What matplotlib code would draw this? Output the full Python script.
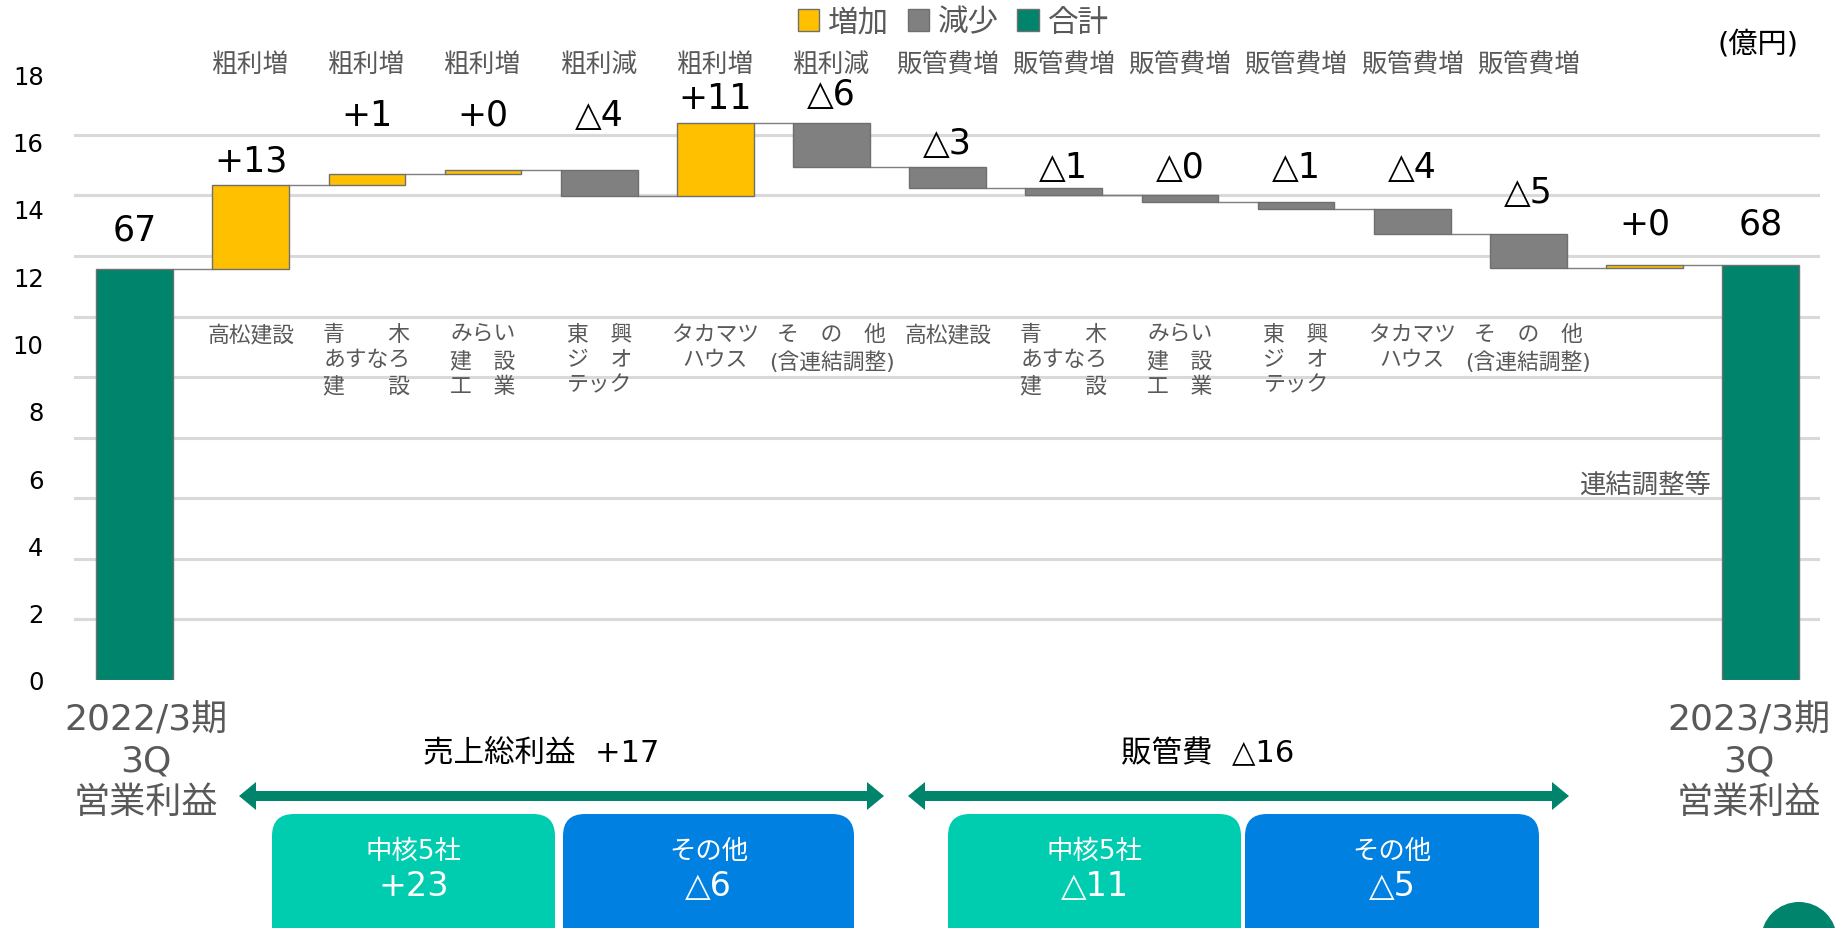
import numpy as np
import matplotlib.pyplot as plt
from matplotlib.patches import Patch, FancyBboxPatch, Circle

plt.rcParams['font.family'] = ['DejaVu Sans', 'Noto Sans CJK JP']

# データ（グラフ目盛り上の値）
start_value = 12.20
deltas = [2.52, 0.31, 0.11, -0.77, 2.17, -1.30, -0.62, -0.21, -0.21, -0.21, -0.74, -1.01, 0.10]
value_labels = ["67", "+13", "+1", "+0", "△4", "+11", "△6", "△3", "△1", "△0", "△1", "△4", "△5", "+0", "68"]
top_labels = ["", "粗利増", "粗利増", "粗利増", "粗利減", "粗利増", "粗利減",
              "販管費増", "販管費増", "販管費増", "販管費増", "販管費増", "販管費増", "", ""]
companies = ["高松建設", "青　　木\nあすなろ\n建　　設", "みらい\n建　設\n工　業",
             "東　興\nジ　オ\nテック", "タカマツ\nハウス", "そ　の　他\n(含連結調整)"]
company_labels = [""] + companies + companies + ["", ""]
start_label = "2022/3期\n3Q\n営業利益"
end_label = "2023/3期\n3Q\n営業利益"
group_titles = ["売上総利益  +17", "販管費  △16"]
box_titles = ["中核5社", "その他", "中核5社", "その他"]
box_values = ["+23", "△6", "△11", "△5"]

# 色
c_up = "#FFC000"
c_down = "#808080"
c_total = "#00846B"
c_box1 = "#00CCAF"
c_box2 = "#0080E0"
gray_txt = "#595959"

# ウォーターフォール計算
levels = start_value + np.cumsum(deltas)
n = len(deltas) + 2
x = np.arange(n)
bottoms = [0]
heights = [start_value]
colors = [c_total]
prev = start_value
for d in deltas:
    bottoms.append(min(prev, prev + d))
    heights.append(abs(d))
    colors.append(c_up if d >= 0 else c_down)
    prev = prev + d
bottoms.append(0)
heights.append(levels[-1])
colors.append(c_total)
run_levels = [start_value] + list(levels)

fig = plt.figure(figsize=(18.44, 9.29), dpi=100)
ax = fig.add_axes([0.0402, 0.267, 0.9468, 0.652])

w = 0.66
ax.bar(x, heights, bottom=bottoms, width=w, color=colors, edgecolor="#6f6f6f", linewidth=1, zorder=3)

# 接続線
for i in range(n - 1):
    ax.plot([x[i] + w / 2, x[i + 1] - w / 2], [run_levels[i], run_levels[i]],
            color="#7f7f7f", linewidth=1, zorder=2)

ax.set_xlim(-0.521, 14.511)
ax.set_ylim(0, 18)
ax.set_yticks(np.arange(0, 19, 2))
ax.set_yticks(np.linspace(0, 18, 11), minor=True)
ax.grid(which='minor', axis='y', color='#d9d9d9', linewidth=2.2)
ax.grid(False, which='major')
ax.set_axisbelow(True)
ax.tick_params(axis='y', which='both', length=0, labelsize=17.5, pad=22)
ax.set_xticks([])
for s in ax.spines.values():
    s.set_visible(False)

# ラベル
label_y = [13.4, 15.45, 16.8, 16.8, 16.8, 17.3, 17.4, 15.95, 15.25, 15.25, 15.25, 15.25, 14.5, 13.55, 13.55]
for i in range(n):
    ax.text(x[i], label_y[i], value_labels[i], ha='center', va='center', fontsize=25, color='black')
    if top_labels[i]:
        ax.text(x[i], 18.3, top_labels[i], ha='center', va='center', fontsize=18.5, color=gray_txt)
    if company_labels[i]:
        ax.text(x[i], 10.58, company_labels[i], ha='center', va='top', fontsize=15.7,
                color=gray_txt, linespacing=1.33, multialignment='center')
ax.text(x[13], 5.8, "連結調整等", ha='center', va='center', fontsize=19, color=gray_txt)

# 凡例
handles = [Patch(facecolor=c_up, edgecolor="#6f6f6f", label="増加"),
           Patch(facecolor=c_down, edgecolor="#6f6f6f", label="減少"),
           Patch(facecolor=c_total, edgecolor="#6f6f6f", label="合計")]
fig.legend(handles=handles, loc='center', bbox_to_anchor=(0.517, 0.975), ncol=3, frameon=False,
           fontsize=22, labelcolor=gray_txt, handlelength=0.7, handleheight=0.7,
           handletextpad=0.3, columnspacing=0.6)

fig.text(0.9534, 0.952, "(億円)", ha='center', va='center', fontsize=21, color='black')

# 下部の注記（ピクセル座標）
ov = fig.add_axes([0, 0, 1, 1])
ov.set_xlim(0, 1844)
ov.set_ylim(929, 0)
ov.axis('off')

ov.text(146, 762, start_label, ha='center', va='center', fontsize=26, color=gray_txt, linespacing=1.27)
ov.text(1749, 762, end_label, ha='center', va='center', fontsize=26, color=gray_txt, linespacing=1.27)

for cx, title in zip([541, 1208], group_titles):
    ov.text(cx, 753, title, ha='center', va='center', fontsize=22, color='black')

# 両矢印
ay, hl, hw, sw = 797, 17, 14, 5
for x0, x1 in [(239, 884), (908, 1569)]:
    px = [x0, x0 + hl, x0 + hl, x1 - hl, x1 - hl, x1, x1 - hl, x1 - hl, x0 + hl, x0 + hl]
    py = [ay, ay - hw, ay - sw, ay - sw, ay - hw, ay, ay + hw, ay + sw, ay + sw, ay + hw]
    ov.fill(px, py, color=c_total, lw=0)

box_x = [(272, 555), (563, 854), (948, 1241), (1245, 1539)]
box_c = [c_box1, c_box2, c_box1, c_box2]
for (bx0, bx1), bc, t1, t2 in zip(box_x, box_c, box_titles, box_values):
    ov.add_patch(FancyBboxPatch((bx0, 815), bx1 - bx0, 170,
                                boxstyle="round,pad=0,rounding_size=22", fc=bc, ec='none'))
    ov.text((bx0 + bx1) / 2, 852, t1, ha='center', va='center', fontsize=19, color='white')
    ov.text((bx0 + bx1) / 2, 887, t2, ha='center', va='center', fontsize=24, color='white')

ov.add_patch(Circle((1799, 941), 38, fc=c_total, ec='none'))
ov.text(1799, 938, "16", ha='center', va='top', fontsize=20, color='white')

fig.savefig("out.png", dpi=100)
